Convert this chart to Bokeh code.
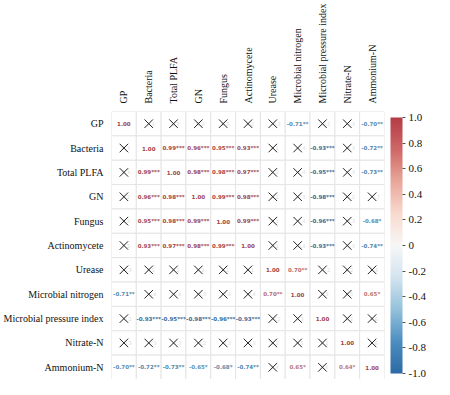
import numpy as np
from bokeh.plotting import figure
from bokeh.models import (ColumnDataSource, FactorRange, ColorBar, LinearColorMapper,
                          FixedTicker, PrintfTickFormatter)
from bokeh.transform import linear_cmap
from bokeh.core.properties import value
from bokeh.embed import file_html
from bokeh.resources import INLINE

labels = ["GP", "Bacteria", "Total PLFA", "GN", "Fungus", "Actinomycete", "Urease",
          "Microbial nitrogen", "Microbial pressure index", "Nitrate-N", "Ammonium-N"]

# correlation values (rows top to bottom, columns left to right); non-significant ones estimated
r_gp = [1.00, 0.35, 0.30, 0.25, 0.28, 0.22, -0.30, -0.71, -0.20, -0.35, -0.70]
r_bac = [0.35, 1.00, 0.99, 0.96, 0.95, 0.93, 0.15, -0.40, -0.93, -0.30, -0.72]
r_plfa = [0.30, 0.99, 1.00, 0.98, 0.98, 0.97, 0.18, -0.38, -0.95, -0.28, -0.73]
r_gn = [0.25, 0.96, 0.98, 1.00, 0.99, 0.98, 0.20, -0.35, -0.98, -0.25, -0.65]
r_fun = [0.28, 0.95, 0.98, 0.99, 1.00, 0.99, 0.12, -0.36, -0.96, -0.30, -0.68]
r_act = [0.22, 0.93, 0.97, 0.98, 0.99, 1.00, 0.10, -0.40, -0.93, -0.33, -0.74]
r_ure = [-0.30, 0.15, 0.18, 0.20, 0.12, 0.10, 1.00, 0.70, -0.20, 0.25, 0.40]
r_mn = [-0.71, -0.40, -0.38, -0.35, -0.36, -0.40, 0.70, 1.00, 0.30, 0.45, 0.65]
r_mpi = [-0.20, -0.93, -0.95, -0.98, -0.96, -0.93, -0.20, 0.30, 1.00, 0.22, 0.55]
r_nit = [-0.35, -0.30, -0.28, -0.25, -0.30, -0.33, 0.25, 0.45, 0.22, 1.00, 0.64]
r_amm = [-0.70, -0.72, -0.73, -0.65, -0.68, -0.74, 0.40, 0.65, 0.55, 0.64, 1.00]
values = [r_gp, r_bac, r_plfa, r_gn, r_fun, r_act, r_ure, r_mn, r_mpi, r_nit, r_amm]

# significance marks ("ns" = crossed out)
s_gp = ["", "ns", "ns", "ns", "ns", "ns", "ns", "**", "ns", "ns", "**"]
s_bac = ["ns", "", "***", "***", "***", "***", "ns", "ns", "***", "ns", "**"]
s_plfa = ["ns", "***", "", "***", "***", "***", "ns", "ns", "***", "ns", "**"]
s_gn = ["ns", "***", "***", "", "***", "***", "ns", "ns", "***", "ns", "ns"]
s_fun = ["ns", "***", "***", "***", "", "***", "ns", "ns", "***", "ns", "*"]
s_act = ["ns", "***", "***", "***", "***", "", "ns", "ns", "***", "ns", "**"]
s_ure = ["ns", "ns", "ns", "ns", "ns", "ns", "", "**", "ns", "ns", "ns"]
s_mn = ["**", "ns", "ns", "ns", "ns", "ns", "**", "", "ns", "ns", "*"]
s_mpi = ["ns", "***", "***", "***", "***", "***", "ns", "ns", "", "ns", "ns"]
s_nit = ["ns", "ns", "ns", "ns", "ns", "ns", "ns", "ns", "ns", "", "ns"]
s_amm = ["**", "**", "**", "*", "*", "**", "ns", "*", "ns", "*", ""]
stars = [s_gp, s_bac, s_plfa, s_gn, s_fun, s_act, s_ure, s_mn, s_mpi, s_nit, s_amm]

colorbar_ticks = [-1.0, -0.8, -0.6, -0.4, -0.2, 0.0, 0.2, 0.4, 0.6, 0.8, 1.0]

# palette: RdBu (blue low, red high) interpolated
base = ['#2d6aa6', '#4d8fc0', '#95c2dc', '#d3e4ef', '#f7f7f7',
        '#f8dace', '#e9a79a', '#cf6868', '#b43c46']
def hex2rgb(h):
    return np.array([int(h[i:i + 2], 16) for i in (1, 3, 5)], dtype=float)
bc = np.array([hex2rgb(h) for h in base])
pos = np.linspace(0, 1, len(base))
palette, text_palette = [], []
grey = hex2rgb('#555555')
for t in np.linspace(0, 1, 256):
    rgb = np.array([np.interp(t, pos, bc[:, k]) for k in range(3)])
    palette.append('#%02x%02x%02x' % tuple(int(round(c)) for c in rgb))
    trgb = 0.78 * rgb + 0.22 * grey
    text_palette.append('#%02x%02x%02x' % tuple(int(round(c)) for c in trgb))

xs, ys, vals, txt, ns_flag = [], [], [], [], []
for i, rl in enumerate(labels):
    for j, cl in enumerate(labels):
        xs.append(cl)
        ys.append(rl)
        vals.append(values[i][j])
        st = stars[i][j]
        ns_flag.append(st == "ns")
        txt.append(f"{values[i][j]:.2f}" + ("" if st == "ns" else st))

cells = ColumnDataSource(dict(x=xs, y=ys))
sig = ColumnDataSource(dict(
    x=[a for a, f in zip(xs, ns_flag) if not f],
    y=[a for a, f in zip(ys, ns_flag) if not f],
    v=[a for a, f in zip(vals, ns_flag) if not f],
    t=[a for a, f in zip(txt, ns_flag) if not f]))
nsig = ColumnDataSource(dict(
    x=[a for a, f in zip(xs, ns_flag) if f],
    y=[a for a, f in zip(ys, ns_flag) if f],
    t=[f"{v:.1f}" for v, f in zip(vals, ns_flag) if f]))

p = figure(width=434, height=379, x_range=FactorRange(*labels),
           y_range=FactorRange(*labels[::-1]), x_axis_location="above",
           output_backend="svg", toolbar_location=None,
           min_border_left=0, min_border_top=0, min_border_bottom=0, min_border_right=0)
p.outline_line_color = None
p.grid.visible = False

for ax in (p.xaxis[0], p.yaxis[0]):
    ax.axis_line_color = None
    ax.major_tick_line_color = None
    ax.minor_tick_line_color = None
    ax.major_label_text_font = "Liberation Serif"
    ax.major_label_text_font_size = "10px"
    ax.major_label_text_color = "#111111"
    ax.major_label_standoff = 2
p.xaxis.major_label_orientation = "vertical"

p.rect("x", "y", width=1, height=1, source=cells, fill_color="white",
       line_color="#e4e4e4", line_width=1)

p.text("x", "y", text="t", source=nsig, text_align="left", text_baseline="middle",
       x_offset=-2, text_color="#dddddd", text_font=value("DejaVu Sans"), text_font_size="5px")
p.scatter("x", "y", source=nsig, marker="x", size=12, line_color="#222222", line_width=1)

p.text("x", "y", text="t", source=sig, text_align="center", text_baseline="middle",
       text_color=linear_cmap("v", text_palette, -1, 1), text_font=value("DejaVu Sans"),
       text_font_size="5.5px", text_font_style="bold")

mapper = LinearColorMapper(palette=palette, low=-1, high=1)
cb = ColorBar(color_mapper=mapper, ticker=FixedTicker(ticks=colorbar_ticks),
              formatter=PrintfTickFormatter(format="%.1f"),
              major_label_overrides={0: "0"}, width=12, padding=6, margin=0,
              label_standoff=3, major_tick_out=3, major_tick_in=0,
              major_tick_line_color="#555555", bar_line_color=None,
              major_label_text_font="Liberation Serif", major_label_text_font_size="11px",
              major_label_text_color="#111111", background_fill_alpha=0)
p.add_layout(cb, "right")

open("out.html", "w").write(file_html(p, INLINE))
